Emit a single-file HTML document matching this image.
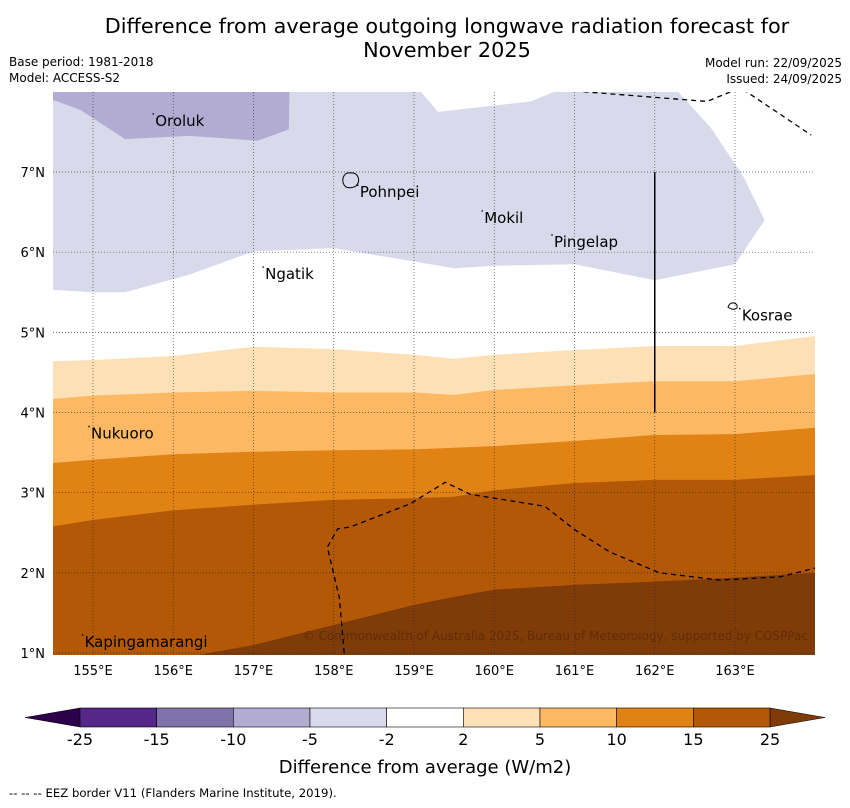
<!DOCTYPE html>
<html><head><meta charset="utf-8"><style>
body{margin:0;background:#fff;width:850px;height:804px;overflow:hidden;font-family:"DejaVu Sans","Liberation Sans",sans-serif}
svg text{font-family:"DejaVu Sans","Liberation Sans",sans-serif}
</style></head><body>
<svg id="c" width="850" height="804">
<text x="447" y="33" font-size="20.8" text-anchor="middle">Difference from average outgoing longwave radiation forecast for</text>
<text x="447" y="57" font-size="20.8" text-anchor="middle">November 2025</text>
<text x="9" y="66" font-size="12">Base period: 1981-2018</text>
<text x="9" y="82" font-size="12">Model: ACCESS-S2</text>
<text x="842" y="67" font-size="12" text-anchor="end">Model run: 22/09/2025</text>
<text x="842" y="83" font-size="12" text-anchor="end">Issued: 24/09/2025</text>
<defs><clipPath id="mc"><rect x="53" y="92" width="762" height="563"/></clipPath></defs>
<g id="map" clip-path="url(#mc)"></g>
<g id="cb"></g>
<text x="425" y="773" font-size="18" text-anchor="middle">Difference from average (W/m2)</text>
<text x="9" y="797" font-size="11.7">--  --  -- EEZ border V11 (Flanders Marine Institute, 2019).</text>
</svg>
<script>
const lons=[154.5,155,156,157,158,159,159.5,160,161,162,163,164];
const b2=[4.64,4.655,4.705,4.82,4.79,4.72,4.67,4.72,4.78,4.83,4.83,4.955];
const b5=[4.17,4.21,4.25,4.27,4.25,4.25,4.22,4.28,4.34,4.39,4.39,4.48];
const b10=[3.37,3.41,3.48,3.51,3.53,3.54,3.56,3.58,3.645,3.72,3.73,3.81];
const b15=[2.58,2.66,2.78,2.85,2.91,2.93,2.95,3.03,3.12,3.16,3.16,3.22];
const b25=[0.75,0.82,0.92,1.1,1.35,1.6,1.7,1.79,1.85,1.89,1.94,2.0];
const neg2=[[154.5,8.1],[159.0,8.1],[159.3,7.75],[160.45,7.88],[161.0,8.1],[162.2,8.1],[162.7,7.55],[163.1,6.95],[163.37,6.4],[163.0,5.85],[162.0,5.65],[161.0,5.85],[160.0,5.83],[159.5,5.8],[158.0,6.05],[157.0,6.01],[156.2,5.72],[155.4,5.5],[155.0,5.5],[154.5,5.53]];
const neg5=[[154.5,8.1],[157.45,8.1],[157.44,7.53],[157.05,7.39],[156.2,7.45],[155.4,7.41],[154.85,7.77],[154.5,7.9]];
const eezA=[[161,8.01],[162.65,7.88],[163.02,8.03]];
const eezB=[[163.1,8.03],[163.95,7.46]];
const eezC=[[158.13,1.0],[158.07,1.69],[157.92,2.32],[158.05,2.55],[158.2,2.57],[158.95,2.86],[159.39,3.13],[159.7,2.98],[160.63,2.83],[161.0,2.54],[161.44,2.26],[162.06,2.0],[162.81,1.91],[163.56,1.95],[164.0,2.06]];
const places=[["Oroluk",155.75,7.65],["Pohnpei",158.3,6.76],["Mokil",159.85,6.44],["Pingelap",160.72,6.14],["Ngatik",157.12,5.74],["Kosrae",163.06,5.22],["Nukuoro",154.95,3.75],["Kapingamarangi",154.87,1.15]];
const cbTicks=["-25","-15","-10","-5","-2","2","5","10","15","25"];
const cbColors=["#542788","#8073ac","#b2abd2","#d8daeb","#ffffff","#fee0b6","#fdb863","#e08214","#b35806"];
const lonTicks=[155,156,157,158,159,160,161,162,163];
const latTicks=[1,2,3,4,5,6,7];

const X=l=>93+(l-155)*80.25, Y=a=>172+(7-a)*80.17;
const NS='http://www.w3.org/2000/svg';
function mk(t,a,p){const e=document.createElementNS(NS,t);for(const k in a)e.setAttribute(k,a[k]);p.appendChild(e);return e;}
const map=document.getElementById('map');
const bg=mk('rect',{x:53,y:92,width:762,height:563,fill:'#ffffff'},map);


function band(top,col,name){
  let pts=lons.map((l,i)=>X(l)+','+Y(top[i]));
  pts.push(X(164.2)+','+Y(top[top.length-1]),X(164.2)+',700',X(154.3)+',700',X(154.3)+','+Y(top[0]));
  const p=mk('polygon',{points:pts.join(' '),fill:col},map);
  
  
}
band(b2,'#fee0b6','band-2-5');band(b5,'#fdb863','band-5-10');band(b10,'#e08214','band-10-15');band(b15,'#b35806','band-15-25');band(b25,'#7f3b08','band-above-25');
function poly(arr,col,name){const p=mk('polygon',{points:arr.map(q=>X(q[0])+','+Y(q[1])).join(' '),fill:col},map);

}
poly(neg2,'#d8daeb','band-neg5-neg2');poly(neg5,'#b2abd2','band-neg10-neg5');
lonTicks.forEach(l=>{const e=mk('line',{x1:X(l),x2:X(l),y1:92,y2:655,stroke:'#222',"stroke-width":0.7,"stroke-dasharray":"1,2",opacity:0.8},map);

});
latTicks.forEach(a=>{const e=mk('line',{x1:53,x2:815,y1:Y(a),y2:Y(a),stroke:'#222',"stroke-width":0.7,"stroke-dasharray":"1,2",opacity:0.8},map);

});
[eezA,eezB,eezC].forEach(arr=>{const e=mk('polyline',{points:arr.map(q=>X(q[0])+','+Y(q[1])).join(' '),fill:'none',stroke:'#000',"stroke-width":1.3,"stroke-dasharray":"5,4"},map);

});
const vl=mk('line',{x1:X(162),x2:X(162),y1:Y(7),y2:Y(4),stroke:'#000',"stroke-width":1.5},map);


const svg=document.getElementById('c');
const pi=mk('path',{d:'M343,178 q2,-6 7,-5 q6,-1 8,4 q2,5 -2,9 q-5,3 -10,1 q-4,-3 -3,-9z',fill:'none',stroke:'#000',"stroke-width":1},map);


const ko=mk('path',{d:'M728,307 q2,-5 6,-4 q4,1 3,5 q-4,3 -9,-1z',fill:'none',stroke:'#000',"stroke-width":1},map);


places.forEach(p=>{const t=mk('text',{x:X(p[1])+2,y:Y(p[2])+6,"font-size":15,fill:'#000'},map);t.textContent=p[0];


const d=mk('circle',{cx:X(p[1]),cy:Y(p[2])-6,r:0.8,fill:'#000'},map);

});
const cr=mk('text',{x:808,y:640,"font-size":12,fill:'#5a2a05',"text-anchor":'end',opacity:0.8},map);cr.textContent='© Commonwealth of Australia 2025, Bureau of Meteorology, supported by COSPPac';


lonTicks.forEach(l=>{const t=mk('text',{x:X(l),y:675,"font-size":13,"text-anchor":'middle'},svg);t.textContent=l+'°E';

});
latTicks.forEach(a=>{const t=mk('text',{x:45,y:Y(a)+5,"font-size":13,"text-anchor":'end'},svg);t.textContent=a+'°N';

});
const cb=document.getElementById('cb');
const x0=80,w=(770-80)/cbColors.length;
const lt=mk('polygon',{points:'25,717.5 80,708 80,727',fill:'#2d004b',stroke:'#000',"stroke-width":0.5},cb);


const rt=mk('polygon',{points:'825,717.5 770,708 770,727',fill:'#7f3b08',stroke:'#000',"stroke-width":0.5},cb);


cbColors.forEach((c,i)=>{const r=mk('rect',{x:x0+i*w,y:708,width:w,height:19,fill:c,stroke:'#000',"stroke-width":0.6},cb);

});
cbTicks.forEach((s,i)=>{const t=mk('text',{x:x0+i*w,y:745,"font-size":16,"text-anchor":'middle'},cb);t.textContent=s;

});
</script>
</body></html>
